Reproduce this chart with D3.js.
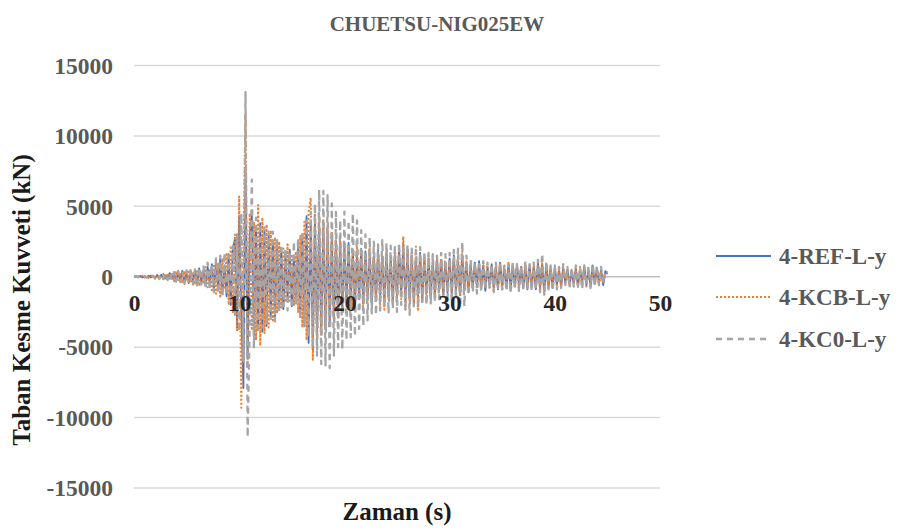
<!DOCTYPE html>
<html>
<head>
<meta charset="utf-8">
<script src="https://cdn.jsdelivr.net/npm/d3@7/dist/d3.min.js"></script>
<style>
  html, body { margin: 0; padding: 0; background: #fff; }
  svg { display: block; }
  text { font-family: "Liberation Serif", "Times New Roman", serif; font-weight: bold; }
</style>
</head>
<body>
<svg id="chart" width="913" height="530"></svg>
<script>
// Base shear time histories, sampled every 0.2 s from 0 to 45 s (kN)
const timeStep = 0.2;

const ref = [
  0, 40, -30, 60, -50, 30, -60, 80, -40, 50,
  -90, 120, -60, 150, -180, 100, -220, 260, -150, 300,
  -350, 280, -200, 420, -380, 250, -450, 380, -300, 520,
  -480, 600, -350, 450, -650, 700, -500, 900, -850, 1100,
  -900, 1300, -1200, 800, -1400, 1600, -2000, 2000, 2700, -3600,
  4300, -2500, -7900, 7600, -5800, 3000, 4400, -4200, 3600, -3800,
  3800, -3900, 3200, -3500, 3000, -2800, 2600, -2900, 2400, -2200,
  2000, -2300, 1700, -1500, 1900, -2100, 1500, -1800, 2200, -2600,
  3000, -3400, 4300, -4700, 3900, -5200, 4100, -4400, 3800, -4000,
  3500, -3700, 3200, -3300, 2900, -3100, 2600, -2800, 2500, -2300,
  2200, -2000, 2400, -1800, 1900, -2100, 1700, -1600, 2000, -1900,
  1800, -1500, 1600, -2000, 1400, -1700, 1900, -1300, 1500, -1800,
  1600, -1400, 1300, -1900, 1700, -1500, 2000, -1200, 2300, -1700,
  1800, -1600, 1500, -1900, 1300, -1400, 1700, -1800, 1400, -1200,
  1300, -1500, 1100, -1300, 1400, -1000, 1200, -1400, 1000, -1100,
  1300, -1200, 1500, -1000, 1100, -1300, 1600, -900, 1000, -1100,
  900, -800, 1000, -700, 1100, -900, 800, -1000, 700, -600,
  900, -800, 700, -900, 1000, -700, 600, -800, 900, -1000,
  800, -700, 900, -600, 700, -800, 600, -900, 800, -700,
  700, -900, 1000, -800, 900, -1100, 800, -700, 600, -800,
  700, -600, 500, -700, 600, -400, 500, -600, 400, -500,
  600, -700, 500, -400, 700, -600, 500, -700, 800, -500,
  600, -400, 500, -600, 400, 200
];

const kcb = [
  0, -30, 50, -40, 70, -60, 40, -80, 90, -50,
  110, -140, 90, -170, 200, -130, 250, -230, 180, -320,
  380, -300, 250, -450, 400, -280, 480, -420, 350, -560,
  520, -650, 400, -500, 700, -750, 560, -950, 900, -1200,
  1000, -1400, 1300, -900, 1700, -2000, 2200, -2600, 3000, -3900,
  5700, -9300, 2000, 11500, -6500, 4500, -3800, 3900, -4500, 5100,
  -4900, 4200, -4000, 3700, -3600, 3300, -3100, 2800, -2600, 2500,
  -2200, 2000, -1800, 2300, -1700, 1600, -2000, 1800, -2500, 2900,
  -3600, 3900, -4500, 4600, 5600, -5900, 4800, -5000, 4400, -4200,
  4000, -3800, 3600, -3400, 3200, -3000, 2800, -2900, 2600, -2400,
  2300, -2100, 2000, -2300, 1800, -1900, 2100, -1700, 1800, -2000,
  1700, -1900, 2000, -1600, 1800, -1400, 1600, -2000, 1500, -2340,
  1900, -1600, 1500, -1800, 2100, -1400, 1800, -1600, 2860, -2340,
  2000, -1800, 1700, -1900, 2150, -2340, 1600, -1500, 1400, -1700,
  1500, -1300, 1200, -1600, 1400, -1100, 1300, -1200, 1100, -1000,
  1200, -1100, 1300, -900, 1500, -1400, 1800, -1000, 1100, -900,
  1000, -900, 800, -1000, 900, -800, 1000, -700, 800, -900,
  700, -1000, 900, -800, 700, -900, 800, -700, 1000, -800,
  900, -800, 700, -900, 800, -600, 900, -700, 600, -800,
  800, -700, 900, -1000, 950, -1280, 900, -800, 700, -600,
  600, -700, 500, -600, 700, -500, 400, -600, 500, -400,
  500, -600, 700, -500, 600, -700, 400, -600, 700, -500,
  500, -600, 400, -500, 300, 250
];

const kc0 = [
  0, 50, -40, 30, -70, 60, -50, 90, -60, 80,
  -130, 100, -160, 190, -120, 240, -200, 280, -260, 330,
  -300, 420, -380, 300, -500, 450, -350, 600, -550, 480,
  -700, 650, -550, 800, -750, 1000, -900, 850, -1100, 1300,
  -1200, 1500, -1400, 1700, -1300, 1500, -2000, 2200, -2800, 3000,
  -3900, 4500, -6000, 13100, -11400, -3500, 6900, -5000, 4200, -4000,
  3800, -3600, 3500, -3300, 3200, -3000, 3200, -3170, 2700, -2500,
  2300, -2100, 2000, -2400, 1800, -2200, 2500, -2000, 2700, -3000,
  3200, -3600, 4000, -4300, 4600, -5000, 5200, -5600, 6170, -6200,
  6100, -6300, 5800, -6480, 5200, -5600, 4600, -5000, 4000, -5170,
  4630, -4500, 4000, -4300, 4500, -4230, 4000, -3700, 3300, -3500,
  3000, -3100, 2800, -2600, 2500, -2700, 2300, -2400, 2600, -2200,
  2400, -2600, 2200, -2300, 2100, -2500, 2400, -2000, 2200, -2400,
  2300, -2700, 2000, -2100, 1900, -2200, 2100, -1800, 1800, -2000,
  1700, -1900, 1600, -1800, 1500, -1600, 1700, -1400, 1600, -1500,
  1700, -1800, 1900, -1600, 2000, -2100, 2500, -2100, 1500, -1300,
  1200, -1100, 1000, -1200, 900, -1000, 1100, -900, 1000, -800,
  900, -1100, 1000, -800, 1100, -900, 800, -1000, 900, -1100,
  1000, -800, 900, -1000, 800, -900, 1100, -800, 900, -1000,
  1000, -900, 1200, -1100, 1650, -1300, 1100, -900, 800, -1000,
  800, -900, 700, -800, 900, -600, 700, -800, 600, -700,
  800, -700, 600, -900, 800, -600, 700, -800, 900, -700,
  800, -600, 700, -500, 400, 300
];

const seriesNames = ["4-REF-L-y", "4-KCB-L-y", "4-KC0-L-y"];
const seriesColors = ["#4472C4", "#ED7D31", "#A5A5A5"];
const xTicks = [0, 10, 20, 30, 40, 50];
const yTicks = [-15000, -10000, -5000, 0, 5000, 10000, 15000];

const svg = d3.select("#chart");

const x = d3.scaleLinear().domain([0, 50]).range([134, 660]);
const y = d3.scaleLinear().domain([-15000, 15000]).range([488, 65.5]);

// horizontal gridlines
svg.append("g")
  .selectAll("line")
  .data(yTicks.filter(v => v !== 0))
  .join("line")
  .attr("x1", x(0)).attr("x2", x(50))
  .attr("y1", d => y(d)).attr("y2", d => y(d))
  .attr("stroke", "#d9d9d9").attr("stroke-width", 1.5);

// y tick labels
svg.append("g")
  .selectAll("text")
  .data(yTicks)
  .join("text")
  .attr("x", 113).attr("y", d => y(d))
  .attr("dy", "0.35em")
  .attr("text-anchor", "end")
  .attr("font-size", 23.5)
  .attr("fill", "#595959")
  .text(d => d);

// zero line drawn beneath the series
svg.append("line")
  .attr("x1", x(0)).attr("x2", x(50))
  .attr("y1", y(0)).attr("y2", y(0))
  .attr("stroke", "#bfbfbf").attr("stroke-width", 1.5);

// series lines
const line = d3.line()
  .x((d, i) => x(i * timeStep))
  .y(d => y(d));

const dashes = [null, "2 2", "6 5"];
const widths = [1.8, 2, 2.3];
[ref, kcb, kc0].forEach((vals, k) => {
  svg.append("path")
    .datum(vals)
    .attr("d", line)
    .attr("fill", "none")
    .attr("stroke", seriesColors[k])
    .attr("stroke-width", widths[k])
    .attr("stroke-dasharray", dashes[k])
    .attr("stroke-linejoin", "round");
});

// x tick labels sit above the series
const xAxis = d3.axisBottom(x).tickValues(xTicks).tickSize(0).tickPadding(18);
const xg = svg.append("g").attr("transform", `translate(0,${y(0)})`).call(xAxis);
xg.select(".domain").remove();
xg.selectAll(".tick text")
  .attr("font-size", 23.5)
  .attr("font-family", "Liberation Serif, Times New Roman, serif")
  .attr("font-weight", "bold")
  .attr("fill", "#262626");

// title
svg.append("text")
  .attr("x", 437).attr("y", 31)
  .attr("text-anchor", "middle")
  .attr("font-size", 21)
  .attr("fill", "#595959")
  .text("CHUETSU-NIG025EW");

// axis titles
svg.append("text")
  .attr("x", 397).attr("y", 520)
  .attr("text-anchor", "middle")
  .attr("font-size", 25)
  .attr("fill", "#1a1a1a")
  .text("Zaman (s)");

svg.append("text")
  .attr("transform", "translate(30,300) rotate(-90)")
  .attr("text-anchor", "middle")
  .attr("font-size", 25)
  .attr("fill", "#1a1a1a")
  .text("Taban Kesme Kuvveti (kN)");

// legend
const legend = svg.append("g");
const legendY = [256, 297, 339];
seriesNames.forEach((name, k) => {
  legend.append("line")
    .attr("x1", 716).attr("x2", 771)
    .attr("y1", legendY[k]).attr("y2", legendY[k])
    .attr("stroke", seriesColors[k])
    .attr("stroke-width", widths[k])
    .attr("stroke-dasharray", dashes[k]);
  legend.append("text")
    .attr("x", 779).attr("y", legendY[k])
    .attr("dy", "0.35em")
    .attr("font-size", 23)
    .attr("fill", "#595959")
    .text(name);
});
</script>
</body>
</html>
